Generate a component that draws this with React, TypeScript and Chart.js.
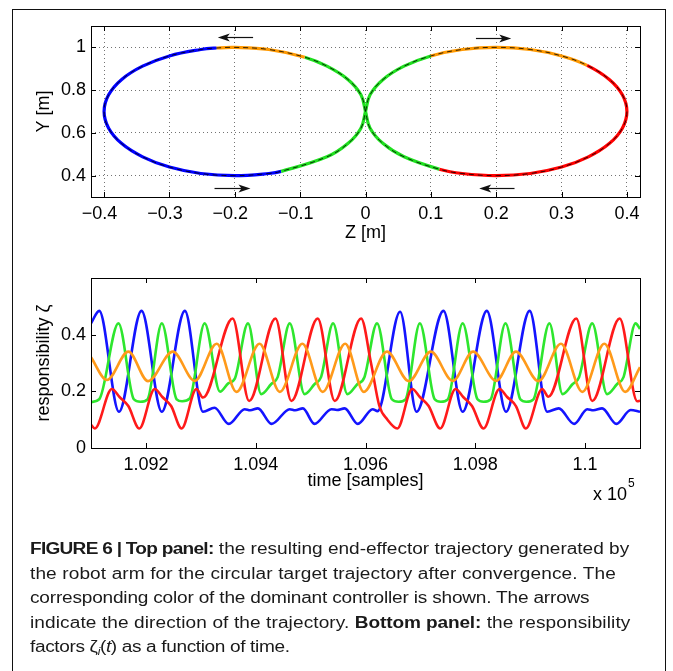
import React, { useEffect, useRef } from 'react';
import { Chart, registerables } from 'chart.js';

Chart.register(...registerables);

const FONT = "'Liberation Sans', Arial, Helvetica, sans-serif";

// ---------- top panel: end-effector trajectory ----------
const trajectoryZ = [
  0.0, 0.007, 0.027, 0.059, 0.1, 0.148, 0.2, 0.252, 0.3, 0.339, 0.373, 0.393, 0.4,
  0.393, 0.373, 0.341, 0.3, 0.252, 0.2, 0.148, 0.113, 0.059, 0.027, 0.007, 0.0,
  -0.007, -0.027, -0.059, -0.093, -0.148, -0.2, -0.228, -0.252, -0.3, -0.341, -0.373, -0.393, -0.4,
  -0.393, -0.373, -0.341, -0.3, -0.252, -0.2, -0.148, -0.129, -0.059, -0.027, -0.007, 0.0,
];
const trajectoryY = [
  0.7, 0.778, 0.85, 0.912, 0.96, 0.99, 1.0, 0.99, 0.96, 0.916, 0.85, 0.778, 0.7,
  0.622, 0.55, 0.488, 0.44, 0.41, 0.4, 0.41, 0.43, 0.488, 0.55, 0.622, 0.7,
  0.778, 0.85, 0.912, 0.954, 0.99, 1.0, 0.997, 0.99, 0.96, 0.912, 0.85, 0.778, 0.7,
  0.622, 0.55, 0.488, 0.44, 0.41, 0.4, 0.41, 0.42, 0.488, 0.55, 0.622, 0.7,
];
// dominant controller for the segment starting at each point
const trajectoryController = [
  'green', 'green', 'green', 'green', 'orange', 'orange', 'orange', 'orange', 'orange', 'red', 'red', 'red', 'red',
  'red', 'red', 'red', 'red', 'red', 'red', 'red', 'green', 'green', 'green', 'green', 'green',
  'green', 'green', 'green', 'orange', 'orange', 'orange', 'blue', 'blue', 'blue', 'blue', 'blue', 'blue', 'blue',
  'blue', 'blue', 'blue', 'blue', 'blue', 'blue', 'blue', 'green', 'green', 'green', 'green', 'green',
];
const zTicks = [-0.4, -0.3, -0.2, -0.1, 0, 0.1, 0.2, 0.3, 0.4];
const zTickLabels = ['\u22120.4\u2002', '\u22120.3\u2002', '\u22120.2\u2002', '\u22120.1\u2002', '0', '0.1', '0.2', '0.3', '0.4'];
const yTicks = [0.4, 0.6, 0.8, 1];
const yTickLabels = ['0.4', '0.6', '0.8', '1'];
// direction arrows (tail z, head z, y)
const arrowTailZ = [-0.172, -0.231, 0.169, 0.228];
const arrowHeadZ = [-0.226, -0.176, 0.223, 0.174];
const arrowY = [1.047, 0.34, 1.045, 0.34];

// ---------- bottom panel: responsibility factors ----------
const timeBlue = [109100, 109115, 109151, 109192, 109229, 109271, 109304, 109325, 109351, 109380, 109390, 109404, 109429, 109462, 109472, 109486, 109507, 109538, 109548, 109562, 109586, 109613, 109622, 109663, 109693, 109742, 109777, 109821, 109856, 109899, 109931, 109952, 109980, 110004, 110015, 110031, 110057, 110083, 110100];
const respBlue = [0.44, 0.484, 0.128, 0.484, 0.128, 0.484, 0.128, 0.142, 0.085, 0.137, 0.133, 0.14, 0.085, 0.137, 0.133, 0.14, 0.085, 0.137, 0.134, 0.14, 0.085, 0.137, 0.13, 0.481, 0.128, 0.484, 0.128, 0.484, 0.128, 0.484, 0.128, 0.14, 0.085, 0.137, 0.133, 0.14, 0.085, 0.134, 0.128];

const timeGreen = [109100, 109115, 109150, 109178, 109190, 109203, 109229, 109256, 109266, 109280, 109307, 109335, 109350, 109362, 109386, 109410, 109428, 109440, 109462, 109489, 109507, 109519, 109541, 109567, 109585, 109598, 109621, 109648, 109660, 109673, 109699, 109726, 109737, 109750, 109777, 109804, 109815, 109828, 109855, 109882, 109893, 109906, 109935, 109959, 109977, 109989, 110013, 110040, 110058, 110070, 110092, 110100];
const respGreen = [0.162, 0.172, 0.44, 0.172, 0.163, 0.172, 0.44, 0.172, 0.165, 0.175, 0.44, 0.199, 0.228, 0.245, 0.44, 0.19, 0.225, 0.25, 0.44, 0.19, 0.225, 0.25, 0.44, 0.19, 0.225, 0.25, 0.44, 0.172, 0.163, 0.172, 0.44, 0.172, 0.163, 0.172, 0.44, 0.172, 0.163, 0.172, 0.44, 0.172, 0.163, 0.172, 0.44, 0.19, 0.225, 0.25, 0.44, 0.19, 0.225, 0.25, 0.44, 0.42];

const timeRed = [109100, 109107, 109138, 109152, 109168, 109188, 109216, 109230, 109246, 109265, 109292, 109304, 109358, 109388, 109436, 109465, 109513, 109544, 109592, 109610, 109625, 109640, 109658, 109685, 109699, 109715, 109736, 109764, 109778, 109794, 109815, 109844, 109858, 109874, 109892, 109922, 109933, 109984, 110013, 110063, 110095, 110100];
const respRed = [0.082, 0.069, 0.208, 0.18, 0.148, 0.069, 0.208, 0.18, 0.148, 0.069, 0.208, 0.178, 0.457, 0.166, 0.457, 0.166, 0.457, 0.166, 0.457, 0.3, 0.15, 0.1, 0.069, 0.208, 0.18, 0.148, 0.069, 0.208, 0.18, 0.148, 0.069, 0.208, 0.18, 0.148, 0.069, 0.208, 0.181, 0.457, 0.166, 0.457, 0.165, 0.167];

const timeOrange = [109100, 109129, 109168, 109204, 109249, 109289, 109329, 109365, 109407, 109444, 109485, 109522, 109563, 109597, 109639, 109679, 109719, 109759, 109796, 109838, 109874, 109915, 109956, 109995, 110035, 110073, 110100];
const respOrange = [0.32, 0.24, 0.34, 0.236, 0.34, 0.237, 0.368, 0.198, 0.368, 0.198, 0.368, 0.198, 0.368, 0.198, 0.34, 0.236, 0.34, 0.237, 0.34, 0.237, 0.34, 0.236, 0.368, 0.198, 0.368, 0.198, 0.285];

const timeTicks = [109200, 109400, 109600, 109800, 110000];
const timeTickLabels = ['1.092', '1.094', '1.096', '1.098', '1.1'];
const respTicks = [0, 0.2, 0.4];
const respTickLabels = ['0', '0.2', '0.4'];

const controllerColors: Record<string, string> = {
  blue: '#0000ff',
  green: '#1fe01f',
  red: '#ff0000',
  orange: '#ff9900',
};

const boxTicksPlugin = {
  id: 'boxTicks',
  afterDatasetsDraw(chart: any) {
    const { ctx, chartArea: a } = chart;
    const len = 5;
    const xs = chart.scales.x;
    const ys = chart.scales.y;
    ctx.save();
    ctx.strokeStyle = '#000';
    ctx.lineWidth = 1;
    ctx.setLineDash([]);
    ctx.beginPath();
    xs.ticks.forEach((t: any) => {
      const px = Math.round(xs.getPixelForValue(t.value)) + 0.5;
      ctx.moveTo(px, a.bottom);
      ctx.lineTo(px, a.bottom - len);
      ctx.moveTo(px, a.top);
      ctx.lineTo(px, a.top + len);
    });
    ys.ticks.forEach((t: any) => {
      const py = Math.round(ys.getPixelForValue(t.value)) + 0.5;
      ctx.moveTo(a.left, py);
      ctx.lineTo(a.left + len, py);
      ctx.moveTo(a.right, py);
      ctx.lineTo(a.right - len, py);
    });
    ctx.stroke();
    ctx.strokeRect(Math.round(a.left) + 0.5, Math.round(a.top) + 0.5, Math.round(a.right - a.left), Math.round(a.bottom - a.top));
    ctx.restore();
  },
};

const arrowPlugin = {
  id: 'arrows',
  afterDatasetsDraw(chart: any) {
    const { ctx } = chart;
    const xs = chart.scales.x;
    const ys = chart.scales.y;
    ctx.save();
    ctx.fillStyle = '#111';
    ctx.strokeStyle = '#111';
    ctx.lineWidth = 1.2;
    ctx.setLineDash([]);
    arrowY.forEach((yv, i) => {
      const x0 = xs.getPixelForValue(arrowTailZ[i]);
      const x1 = xs.getPixelForValue(arrowHeadZ[i]);
      const py = Math.round(ys.getPixelForValue(yv)) + 0.5;
      const dir = Math.sign(x1 - x0);
      ctx.beginPath();
      ctx.moveTo(x0, py);
      ctx.lineTo(x1 - dir * 6, py);
      ctx.stroke();
      ctx.beginPath();
      ctx.moveTo(x1, py);
      ctx.lineTo(x1 - dir * 12, py - 4);
      ctx.lineTo(x1 - dir * 9, py);
      ctx.lineTo(x1 - dir * 12, py + 4);
      ctx.closePath();
      ctx.fill();
    });
    ctx.restore();
  },
};

const exponentPlugin = {
  id: 'exponent',
  afterDraw(chart: any) {
    const { ctx, chartArea: a } = chart;
    ctx.save();
    ctx.fillStyle = '#000';
    ctx.textBaseline = 'alphabetic';
    ctx.font = `18px ${FONT}`;
    ctx.textAlign = 'right';
    ctx.fillText('x 10', a.right - 13, a.bottom + 52);
    ctx.font = `12px ${FONT}`;
    ctx.textAlign = 'left';
    ctx.fillText('5', a.right - 12, a.bottom + 39);
    ctx.restore();
  },
};

const tickFont = { family: FONT, size: 18 };

function topConfig(): any {
  const pts = trajectoryZ.map((z, i) => ({ x: z, y: trajectoryY[i] }));
  return {
    type: 'scatter',
    data: {
      datasets: [
        {
          data: pts,
          showLine: true,
          borderWidth: 3.2,
          pointRadius: 0,
          tension: 0.4,
          borderColor: '#000',
          order: 2,
          segment: {
            borderColor: (c: any) => controllerColors[trajectoryController[c.p0DataIndex]],
          },
        },
        {
          data: pts,
          showLine: true,
          borderWidth: 1,
          borderColor: 'rgba(0,0,0,0.8)',
          borderDash: [5, 4],
          pointRadius: 0,
          tension: 0.4,
          order: 1,
        },
      ],
    },
    options: {
      responsive: false,
      animation: false,
      events: [],
      layout: { padding: { left: 0, top: 26, right: 33, bottom: 0 } },
      plugins: { legend: { display: false }, tooltip: { enabled: false } },
      scales: {
        x: {
          type: 'linear',
          min: -0.42,
          max: 0.42,
          afterBuildTicks: (s: any) => { s.ticks = zTicks.map((value) => ({ value })); },
          afterFit: (s: any) => { s.height = 53; },
          ticks: { color: '#000', font: tickFont, padding: 6, maxRotation: 0, autoSkip: false, callback: (_v: any, i: number) => zTickLabels[i] },
          grid: { color: 'rgba(0,0,0,0.55)', drawTicks: false, lineWidth: 1 },
          border: { display: false, dash: [1, 3] },
          title: { display: true, text: 'Z [m]', color: '#000', font: tickFont, padding: { top: 0, bottom: 6 } },
        },
        y: {
          type: 'linear',
          min: 0.3,
          max: 1.1,
          afterBuildTicks: (s: any) => { s.ticks = yTicks.map((value) => ({ value })); },
          afterFit: (s: any) => { s.width = 91; },
          ticks: { color: '#000', font: tickFont, padding: 5, autoSkip: false, callback: (_v: any, i: number) => yTickLabels[i] },
          grid: { color: 'rgba(0,0,0,0.55)', drawTicks: false, lineWidth: 1 },
          border: { display: false, dash: [1, 3] },
          title: { display: true, text: 'Y [m]', color: '#000', font: tickFont, padding: { top: 33, bottom: 0 } },
        },
      },
    },
    plugins: [boxTicksPlugin, arrowPlugin],
  };
}

function series(ts: number[], vs: number[], color: string) {
  return {
    data: ts.map((t, i) => ({ x: t, y: vs[i] })),
    borderColor: color,
    borderWidth: 2.6,
    pointRadius: 0,
    cubicInterpolationMode: 'monotone',
    fill: false,
  };
}

function bottomConfig(): any {
  return {
    type: 'line',
    data: {
      datasets: [
        series(timeOrange, respOrange, '#ff9a1a'),
        series(timeRed, respRed, '#ff1a1a'),
        series(timeGreen, respGreen, '#2ee62e'),
        series(timeBlue, respBlue, '#1414ff'),
      ],
    },
    options: {
      responsive: false,
      animation: false,
      events: [],
      layout: { padding: { left: 0, top: 28, right: 33, bottom: 0 } },
      plugins: { legend: { display: false }, tooltip: { enabled: false } },
      scales: {
        x: {
          type: 'linear',
          min: 109100,
          max: 110100,
          afterBuildTicks: (s: any) => { s.ticks = timeTicks.map((value) => ({ value })); },
          afterFit: (s: any) => { s.height = 72; },
          ticks: { color: '#000', font: tickFont, padding: 6, maxRotation: 0, autoSkip: false, callback: (_v: any, i: number) => timeTickLabels[i] },
          grid: { display: false, drawTicks: false },
          border: { display: false },
          title: { display: true, text: 'time [samples]', color: '#000', font: tickFont, padding: { top: 0, bottom: 28 } },
        },
        y: {
          type: 'linear',
          min: 0,
          max: 0.6,
          afterBuildTicks: (s: any) => { s.ticks = respTicks.map((value) => ({ value })); },
          afterFit: (s: any) => { s.width = 91; },
          ticks: { color: '#000', font: tickFont, padding: 5, autoSkip: false, callback: (_v: any, i: number) => respTickLabels[i] },
          grid: { display: false, drawTicks: false },
          border: { display: false },
          title: { display: true, text: 'responsibility \u03B6', color: '#000', font: tickFont, padding: { top: 33, bottom: 0 } },
        },
      },
    },
    plugins: [boxTicksPlugin, exponentPlugin],
  };
}

export default function App() {
  const topRef = useRef<HTMLCanvasElement>(null);
  const botRef = useRef<HTMLCanvasElement>(null);

  useEffect(() => {
    const top = new Chart(topRef.current as HTMLCanvasElement, topConfig());
    const bot = new Chart(botRef.current as HTMLCanvasElement, bottomConfig());
    return () => {
      top.destroy();
      bot.destroy();
    };
  }, []);

  return (
    <div style={{ position: 'fixed', left: 0, top: 0, width: 673, height: 671, overflow: 'hidden', background: '#fff' }}>
      <canvas ref={topRef} width={673} height={250} style={{ position: 'absolute', left: 0, top: 0 }} />
      <canvas ref={botRef} width={673} height={270} style={{ position: 'absolute', left: 0, top: 250 }} />
      <div
        style={{
          position: 'absolute',
          left: 12,
          top: 9,
          width: 652,
          height: 720,
          borderTop: '1px solid #111',
          borderLeft: '1px solid #111',
          borderRight: '1px solid #111',
          pointerEvents: 'none',
        }}
      />
      <div
        style={{
          position: 'absolute',
          left: 30,
          top: 537,
          fontFamily: FONT,
          fontSize: 16,
          lineHeight: '24.5px',
          color: '#1a1a1a',
          whiteSpace: 'nowrap',
          transform: 'scaleX(1.19)',
          transformOrigin: '0 0',
        }}
      >
        <div><b style={{ letterSpacing: '-0.6px' }}>FIGURE 6 | Top panel:</b> the resulting end-effector trajectory generated by</div>
        <div style={{ letterSpacing: '0.1px' }}>the robot arm for the circular target trajectory after convergence. The</div>
        <div style={{ letterSpacing: '-0.16px' }}>corresponding color of the dominant controller is shown. The arrows</div>
        <div style={{ letterSpacing: '0.09px' }}>indicate the direction of the trajectory. <b style={{ letterSpacing: '-0.1px' }}>Bottom panel:</b> the responsibility</div>
        <div style={{ letterSpacing: '-0.3px' }}>
          factors {'\u03B6'}
          <sub style={{ fontSize: 10, lineHeight: 0, verticalAlign: '-3px' }}><i>i</i></sub>(<i>t</i>) as a function of time.
        </div>
      </div>
    </div>
  );
}
